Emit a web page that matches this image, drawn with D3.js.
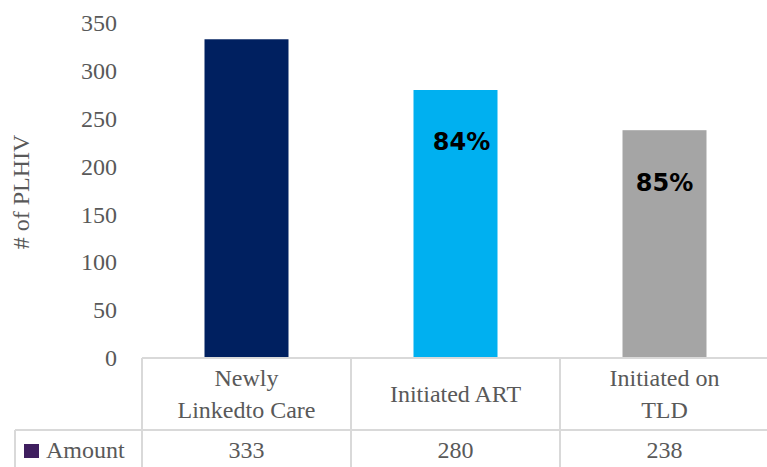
<!DOCTYPE html>
<html>
<head>
<meta charset="utf-8">
<script src="https://cdn.jsdelivr.net/npm/d3@7"></script>
<style>
body { margin: 0; background: #fff; }
text { font-family: "Liberation Serif", "DejaVu Serif", serif; fill: #595959; }
</style>
</head>
<body>
<svg id="chart" width="767" height="467"></svg>
<script>
// chart data
var categories = [["Newly", "Linkedto Care"], ["Initiated ART"], ["Initiated on", "TLD"]];
var amounts = [333, 280, 238];
var pctLabels = ["", "84%", "85%"];
var barColors = ["#002060", "#00B0F0", "#A5A5A5"];
var yTicks = [0, 50, 100, 150, 200, 250, 300, 350];
var seriesName = "Amount";

var svg = d3.select("#chart"),
    plotLeft = 142, plotRight = 769, plotTop = 23, base = 358,
    rowMid = 430, tableBottom = 480;

var x = d3.scaleBand()
    .domain(d3.range(amounts.length))
    .range([plotLeft, plotRight])
    .paddingInner(0).paddingOuter(0);

var y = d3.scaleLinear().domain([0, 350]).range([base, plotTop]);

var barW = 84;

// y axis labels
var yAxis = d3.axisLeft(y).tickValues(yTicks).tickSize(0).tickPadding(0);
var ya = svg.append("g")
    .attr("transform", "translate(117,0)")
    .call(yAxis);
ya.select(".domain").remove();
ya.selectAll("text")
    .style("font-family", "'Liberation Serif', serif")
    .style("font-size", "24px")
    .attr("fill", "#595959");

svg.append("text")
    .attr("transform", "translate(29,192) rotate(-90)")
    .attr("text-anchor", "middle")
    .style("font-size", "24px")
    .text("# of PLHIV");

// bars
svg.selectAll(".bar")
    .data(amounts)
    .enter().append("rect")
    .attr("class", "bar")
    .attr("x", function(d, i) { return x(i) + (x.bandwidth() - barW) / 2; })
    .attr("width", barW)
    .attr("y", function(d) { return y(d); })
    .attr("height", function(d) { return base - y(d); })
    .attr("fill", function(d, i) { return barColors[i]; });

// percentage labels
svg.selectAll(".pct")
    .data(amounts)
    .enter().append("text")
    .attr("class", "pct")
    .attr("x", function(d, i) { return x(i) + x.bandwidth() / 2 + (i == 1 ? 6 : 0); })
    .attr("y", function(d) { return y(d) + 52; })
    .attr("dy", "0.35em")
    .attr("text-anchor", "middle")
    .style("font-family", "'DejaVu Sans', sans-serif")
    .style("font-weight", "bold")
    .style("font-size", "24px")
    .style("fill", "#000")
    .text(function(d, i) { return pctLabels[i]; });

// data table grid
var grid = svg.append("g")
    .attr("stroke", "#d9d9d9")
    .attr("stroke-width", 2)
    .attr("fill", "none");
grid.append("line").attr("x1", plotLeft).attr("x2", plotRight).attr("y1", base).attr("y2", base);
grid.append("line").attr("x1", 15).attr("x2", plotRight).attr("y1", rowMid).attr("y2", rowMid);
grid.append("line").attr("x1", 15).attr("x2", 15).attr("y1", rowMid).attr("y2", tableBottom);
grid.selectAll(".vl")
    .data(d3.range(amounts.length))
    .enter().append("line")
    .attr("x1", function(i) { return x(i); })
    .attr("x2", function(i) { return x(i); })
    .attr("y1", base).attr("y2", tableBottom);

// category labels
svg.selectAll(".cat")
    .data(categories)
    .enter().append("text")
    .attr("class", "cat")
    .attr("text-anchor", "middle")
    .style("font-size", "24px")
    .attr("x", function(d, i) { return x(i) + x.bandwidth() / 2; })
    .attr("y", function(d) { return d.length > 1 ? 378 : 394; })
    .each(function(d) {
        var t = d3.select(this);
        d.forEach(function(line, k) {
            t.append("tspan")
                .attr("x", t.attr("x"))
                .attr("dy", k == 0 ? "0.35em" : "32px")
                .text(line);
        });
    });

// values row
svg.selectAll(".val")
    .data(amounts)
    .enter().append("text")
    .attr("class", "val")
    .attr("text-anchor", "middle")
    .style("font-size", "24px")
    .attr("x", function(d, i) { return x(i) + x.bandwidth() / 2; })
    .attr("y", 450)
    .attr("dy", "0.35em")
    .text(function(d) { return d; });

// legend key
svg.append("rect")
    .attr("x", 24).attr("y", 444)
    .attr("width", 15).attr("height", 14)
    .attr("fill", "#3F1F5F");
svg.append("text")
    .attr("x", 46).attr("y", 450)
    .attr("dy", "0.35em")
    .style("font-size", "24px")
    .text(seriesName);
</script>
</body>
</html>
